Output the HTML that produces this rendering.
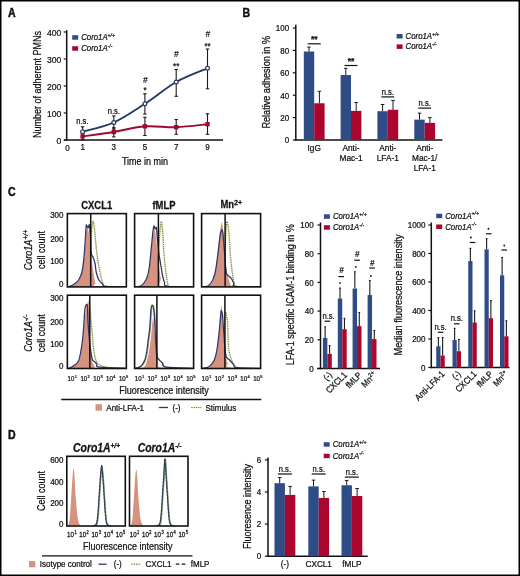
<!DOCTYPE html>
<html><head><meta charset="utf-8"><style>
html,body{margin:0;padding:0;background:#fff;}
body{width:520px;height:576px;overflow:hidden;}
svg text{font-family:"Liberation Sans", sans-serif;stroke:#111;stroke-width:0.25px;}
</style></head><body>
<svg width="520" height="576" viewBox="0 0 520 576" style="display:block;will-change:transform" font-family='"Liberation Sans", sans-serif'>
<rect x="0" y="0" width="520" height="576" fill="#fff"/>
<text x="0" y="0" font-size="12.00" text-anchor="start" font-weight="bold" fill="#111" transform="translate(7.90 16.90) scale(0.880 1)" style="stroke-width:0.45px">A</text>
<line x1="66.7" y1="30.2" x2="66.7" y2="140.7" stroke="#111" stroke-width="1.5"/>
<line x1="64" y1="140.0" x2="223" y2="140.0" stroke="#111" stroke-width="1.4"/>
<line x1="63.7" y1="140.0" x2="66.7" y2="140.0" stroke="#111" stroke-width="1.2"/>
<text x="0" y="0" font-size="9.63" text-anchor="end" fill="#111" transform="translate(61.20 143.60) scale(0.893 1)">0</text>
<line x1="63.7" y1="113.0" x2="66.7" y2="113.0" stroke="#111" stroke-width="1.2"/>
<text x="0" y="0" font-size="9.63" text-anchor="end" fill="#111" transform="translate(61.20 116.60) scale(0.893 1)">100</text>
<line x1="63.7" y1="86.0" x2="66.7" y2="86.0" stroke="#111" stroke-width="1.2"/>
<text x="0" y="0" font-size="9.63" text-anchor="end" fill="#111" transform="translate(61.20 89.60) scale(0.893 1)">200</text>
<line x1="63.7" y1="59.0" x2="66.7" y2="59.0" stroke="#111" stroke-width="1.2"/>
<text x="0" y="0" font-size="9.63" text-anchor="end" fill="#111" transform="translate(61.20 62.60) scale(0.893 1)">300</text>
<line x1="63.7" y1="32.0" x2="66.7" y2="32.0" stroke="#111" stroke-width="1.2"/>
<text x="0" y="0" font-size="9.63" text-anchor="end" fill="#111" transform="translate(61.20 35.60) scale(0.893 1)">400</text>
<text x="0" y="0" font-size="8.96" text-anchor="middle" fill="#111" transform="translate(82.60 150.30) scale(0.893 1)">1</text>
<text x="0" y="0" font-size="8.96" text-anchor="middle" fill="#111" transform="translate(113.80 150.30) scale(0.893 1)">3</text>
<text x="0" y="0" font-size="8.96" text-anchor="middle" fill="#111" transform="translate(144.90 150.30) scale(0.893 1)">5</text>
<text x="0" y="0" font-size="8.96" text-anchor="middle" fill="#111" transform="translate(176.20 150.30) scale(0.893 1)">7</text>
<text x="0" y="0" font-size="8.96" text-anchor="middle" fill="#111" transform="translate(207.50 150.30) scale(0.893 1)">9</text>
<text x="0" y="0" font-size="8.96" text-anchor="middle" fill="#111" transform="translate(67.50 150.50) scale(0.893 1)">0</text>
<text x="0" y="0" font-size="10.08" text-anchor="middle" fill="#111" transform="translate(145.00 164.50) scale(0.893 1)">Time in min</text>
<text x="0" y="0" font-size="10.08" text-anchor="middle" fill="#111" transform="translate(40.60 84.50) rotate(-90) scale(0.893 1)">Number of adherent PMNs</text>
<rect x="72.2" y="35.2" width="6" height="4.5" fill="#2e4d86"/>
<rect x="72.2" y="46.2" width="6" height="4.5" fill="#ab072e"/>
<text x="0" y="0" font-size="8.74" text-anchor="start" font-style="italic" fill="#111" transform="translate(81.20 40.20) scale(0.893 1)">Coro1A<tspan font-size="5.68" dy="-3.36">+/+</tspan></text>
<text x="0" y="0" font-size="8.74" text-anchor="start" font-style="italic" fill="#111" transform="translate(81.20 51.20) scale(0.893 1)">Coro1A<tspan font-size="5.68" dy="-3.36">-/-</tspan></text>
<line x1="82.6" y1="126.8" x2="82.6" y2="136.5" stroke="#1a1a1a" stroke-width="1.1"/>
<line x1="80.89999999999999" y1="126.8" x2="84.3" y2="126.8" stroke="#1a1a1a" stroke-width="1.1"/>
<line x1="80.89999999999999" y1="136.5" x2="84.3" y2="136.5" stroke="#1a1a1a" stroke-width="1.1"/>
<line x1="113.8" y1="115.9" x2="113.8" y2="129" stroke="#1a1a1a" stroke-width="1.1"/>
<line x1="112.1" y1="115.9" x2="115.5" y2="115.9" stroke="#1a1a1a" stroke-width="1.1"/>
<line x1="112.1" y1="129" x2="115.5" y2="129" stroke="#1a1a1a" stroke-width="1.1"/>
<line x1="144.9" y1="93.8" x2="144.9" y2="114" stroke="#1a1a1a" stroke-width="1.1"/>
<line x1="143.20000000000002" y1="93.8" x2="146.6" y2="93.8" stroke="#1a1a1a" stroke-width="1.1"/>
<line x1="143.20000000000002" y1="114" x2="146.6" y2="114" stroke="#1a1a1a" stroke-width="1.1"/>
<line x1="176.2" y1="69.5" x2="176.2" y2="96.3" stroke="#1a1a1a" stroke-width="1.1"/>
<line x1="174.5" y1="69.5" x2="177.89999999999998" y2="69.5" stroke="#1a1a1a" stroke-width="1.1"/>
<line x1="174.5" y1="96.3" x2="177.89999999999998" y2="96.3" stroke="#1a1a1a" stroke-width="1.1"/>
<line x1="207.5" y1="49" x2="207.5" y2="88.8" stroke="#1a1a1a" stroke-width="1.1"/>
<line x1="205.8" y1="49" x2="209.2" y2="49" stroke="#1a1a1a" stroke-width="1.1"/>
<line x1="205.8" y1="88.8" x2="209.2" y2="88.8" stroke="#1a1a1a" stroke-width="1.1"/>
<line x1="82.6" y1="133" x2="82.6" y2="140" stroke="#1a1a1a" stroke-width="1.1"/>
<line x1="80.89999999999999" y1="133" x2="84.3" y2="133" stroke="#1a1a1a" stroke-width="1.1"/>
<line x1="80.89999999999999" y1="140" x2="84.3" y2="140" stroke="#1a1a1a" stroke-width="1.1"/>
<line x1="113.8" y1="127.7" x2="113.8" y2="136.9" stroke="#1a1a1a" stroke-width="1.1"/>
<line x1="112.1" y1="127.7" x2="115.5" y2="127.7" stroke="#1a1a1a" stroke-width="1.1"/>
<line x1="112.1" y1="136.9" x2="115.5" y2="136.9" stroke="#1a1a1a" stroke-width="1.1"/>
<line x1="144.9" y1="117.3" x2="144.9" y2="135.5" stroke="#1a1a1a" stroke-width="1.1"/>
<line x1="143.20000000000002" y1="117.3" x2="146.6" y2="117.3" stroke="#1a1a1a" stroke-width="1.1"/>
<line x1="143.20000000000002" y1="135.5" x2="146.6" y2="135.5" stroke="#1a1a1a" stroke-width="1.1"/>
<line x1="176.2" y1="119.5" x2="176.2" y2="134.3" stroke="#1a1a1a" stroke-width="1.1"/>
<line x1="174.5" y1="119.5" x2="177.89999999999998" y2="119.5" stroke="#1a1a1a" stroke-width="1.1"/>
<line x1="174.5" y1="134.3" x2="177.89999999999998" y2="134.3" stroke="#1a1a1a" stroke-width="1.1"/>
<line x1="207.5" y1="113.8" x2="207.5" y2="134.3" stroke="#1a1a1a" stroke-width="1.1"/>
<line x1="205.8" y1="113.8" x2="209.2" y2="113.8" stroke="#1a1a1a" stroke-width="1.1"/>
<line x1="205.8" y1="134.3" x2="209.2" y2="134.3" stroke="#1a1a1a" stroke-width="1.1"/>
<path d="M82.60,136.40 C87.80,135.67 103.42,133.68 113.80,132.00 C124.18,130.32 134.50,127.10 144.90,126.30 C155.30,125.50 165.77,127.55 176.20,127.20 C186.63,126.85 202.28,124.70 207.50,124.20" fill="none" stroke="#9e0a30" stroke-width="2.0"/>
<path d="M82.60,131.70 C87.80,130.17 103.42,127.15 113.80,122.50 C124.18,117.85 134.50,110.55 144.90,103.80 C155.30,97.05 165.77,87.92 176.20,82.00 C186.63,76.08 202.28,70.58 207.50,68.30" fill="none" stroke="#263766" stroke-width="1.9"/>
<rect x="80.39999999999999" y="134.20000000000002" width="4.4" height="4.4" fill="#9e0a30"/>
<rect x="111.6" y="129.8" width="4.4" height="4.4" fill="#9e0a30"/>
<rect x="142.70000000000002" y="124.1" width="4.4" height="4.4" fill="#9e0a30"/>
<rect x="174.0" y="125.0" width="4.4" height="4.4" fill="#9e0a30"/>
<rect x="205.3" y="122.0" width="4.4" height="4.4" fill="#9e0a30"/>
<circle cx="82.6" cy="131.7" r="1.9" fill="#fff" stroke="#263766" stroke-width="1.2"/>
<circle cx="113.8" cy="122.5" r="1.9" fill="#fff" stroke="#263766" stroke-width="1.2"/>
<circle cx="144.9" cy="103.8" r="1.9" fill="#fff" stroke="#263766" stroke-width="1.2"/>
<circle cx="176.2" cy="82.0" r="1.9" fill="#fff" stroke="#263766" stroke-width="1.2"/>
<circle cx="207.5" cy="68.3" r="1.9" fill="#fff" stroke="#263766" stroke-width="1.2"/>
<text x="0" y="0" font-size="8.51" text-anchor="middle" fill="#111" transform="translate(82.40 124.30) scale(0.893 1)">n.s.</text>
<text x="0" y="0" font-size="8.51" text-anchor="middle" fill="#111" transform="translate(113.80 113.80) scale(0.893 1)">n.s.</text>
<text x="0" y="0" font-size="8.96" text-anchor="middle" fill="#111" transform="translate(145.00 92.50) scale(0.893 1)">*</text>
<text x="0" y="0" font-size="9.18" text-anchor="middle" font-style="italic" fill="#111" transform="translate(145.20 82.60) scale(0.893 1)">#</text>
<text x="0" y="0" font-size="8.96" text-anchor="middle" fill="#111" transform="translate(176.20 69.00) scale(0.893 1)">**</text>
<text x="0" y="0" font-size="9.18" text-anchor="middle" font-style="italic" fill="#111" transform="translate(176.40 56.50) scale(0.893 1)">#</text>
<text x="0" y="0" font-size="8.96" text-anchor="middle" fill="#111" transform="translate(207.50 48.80) scale(0.893 1)">**</text>
<text x="0" y="0" font-size="9.18" text-anchor="middle" font-style="italic" fill="#111" transform="translate(207.70 37.40) scale(0.893 1)">#</text>
<text x="0" y="0" font-size="12.00" text-anchor="start" font-weight="bold" fill="#111" transform="translate(242.40 17.00) scale(0.880 1)" style="stroke-width:0.45px">B</text>
<line x1="295.8" y1="24.8" x2="295.8" y2="140.7" stroke="#111" stroke-width="1.5"/>
<line x1="295.1" y1="140.0" x2="442.4" y2="140.0" stroke="#111" stroke-width="1.5"/>
<line x1="292.8" y1="140.0" x2="295.8" y2="140.0" stroke="#111" stroke-width="1.2"/>
<text x="0" y="0" font-size="8.96" text-anchor="end" fill="#111" transform="translate(289.20 143.30) scale(0.893 1)">0</text>
<line x1="292.8" y1="117.6" x2="295.8" y2="117.6" stroke="#111" stroke-width="1.2"/>
<text x="0" y="0" font-size="8.96" text-anchor="end" fill="#111" transform="translate(289.20 120.90) scale(0.893 1)">20</text>
<line x1="292.8" y1="95.19999999999999" x2="295.8" y2="95.19999999999999" stroke="#111" stroke-width="1.2"/>
<text x="0" y="0" font-size="8.96" text-anchor="end" fill="#111" transform="translate(289.20 98.50) scale(0.893 1)">40</text>
<line x1="292.8" y1="72.8" x2="295.8" y2="72.8" stroke="#111" stroke-width="1.2"/>
<text x="0" y="0" font-size="8.96" text-anchor="end" fill="#111" transform="translate(289.20 76.10) scale(0.893 1)">60</text>
<line x1="292.8" y1="50.39999999999999" x2="295.8" y2="50.39999999999999" stroke="#111" stroke-width="1.2"/>
<text x="0" y="0" font-size="8.96" text-anchor="end" fill="#111" transform="translate(289.20 53.70) scale(0.893 1)">80</text>
<line x1="292.8" y1="27.999999999999986" x2="295.8" y2="27.999999999999986" stroke="#111" stroke-width="1.2"/>
<text x="0" y="0" font-size="8.96" text-anchor="end" fill="#111" transform="translate(289.20 31.30) scale(0.893 1)">100</text>
<text x="0" y="0" font-size="10.19" text-anchor="middle" fill="#111" transform="translate(270.00 82.30) rotate(-90) scale(0.893 1)">Relative adhesion in %</text>
<rect x="303.8" y="51.519999999999996" width="10.4" height="88.48" fill="#2e4d86"/>
<rect x="314.2" y="103.26400000000001" width="10.4" height="36.736" fill="#ab072e"/>
<line x1="309.0" y1="47.03999999999999" x2="309.0" y2="51.519999999999996" stroke="#1a1a1a" stroke-width="1"/>
<line x1="307.25" y1="47.03999999999999" x2="310.75" y2="47.03999999999999" stroke="#1a1a1a" stroke-width="1"/>
<line x1="319.40000000000003" y1="91.28" x2="319.40000000000003" y2="103.26400000000001" stroke="#1a1a1a" stroke-width="1"/>
<line x1="317.65000000000003" y1="91.28" x2="321.15000000000003" y2="91.28" stroke="#1a1a1a" stroke-width="1"/>
<rect x="340.6" y="75.03999999999999" width="10.4" height="64.96000000000001" fill="#2e4d86"/>
<rect x="351.0" y="110.88" width="10.4" height="29.120000000000005" fill="#ab072e"/>
<line x1="345.8" y1="68.32" x2="345.8" y2="75.03999999999999" stroke="#1a1a1a" stroke-width="1"/>
<line x1="344.05" y1="68.32" x2="347.55" y2="68.32" stroke="#1a1a1a" stroke-width="1"/>
<line x1="356.20000000000005" y1="102.47999999999999" x2="356.20000000000005" y2="110.88" stroke="#1a1a1a" stroke-width="1"/>
<line x1="354.45000000000005" y1="102.47999999999999" x2="357.95000000000005" y2="102.47999999999999" stroke="#1a1a1a" stroke-width="1"/>
<rect x="377.4" y="111.216" width="10.4" height="28.784000000000002" fill="#2e4d86"/>
<rect x="387.79999999999995" y="109.75999999999999" width="10.4" height="30.240000000000002" fill="#ab072e"/>
<line x1="382.59999999999997" y1="104.496" x2="382.59999999999997" y2="111.216" stroke="#1a1a1a" stroke-width="1"/>
<line x1="380.84999999999997" y1="104.496" x2="384.34999999999997" y2="104.496" stroke="#1a1a1a" stroke-width="1"/>
<line x1="393.0" y1="100.464" x2="393.0" y2="109.75999999999999" stroke="#1a1a1a" stroke-width="1"/>
<line x1="391.25" y1="100.464" x2="394.75" y2="100.464" stroke="#1a1a1a" stroke-width="1"/>
<rect x="414.3" y="119.616" width="10.4" height="20.384" fill="#2e4d86"/>
<rect x="424.7" y="122.864" width="10.4" height="17.136000000000003" fill="#ab072e"/>
<line x1="419.5" y1="113.12" x2="419.5" y2="119.616" stroke="#1a1a1a" stroke-width="1"/>
<line x1="417.75" y1="113.12" x2="421.25" y2="113.12" stroke="#1a1a1a" stroke-width="1"/>
<line x1="429.90000000000003" y1="117.6" x2="429.90000000000003" y2="122.864" stroke="#1a1a1a" stroke-width="1"/>
<line x1="428.15000000000003" y1="117.6" x2="431.65000000000003" y2="117.6" stroke="#1a1a1a" stroke-width="1"/>
<text x="0" y="0" font-size="9.52" text-anchor="middle" font-weight="bold" fill="#111" transform="translate(314.20 42.00) scale(0.893 1)">**</text>
<line x1="307.7" y1="43.8" x2="320.7" y2="43.8" stroke="#111" stroke-width="1.2"/>
<text x="0" y="0" font-size="9.52" text-anchor="middle" font-weight="bold" fill="#111" transform="translate(351.00 63.50) scale(0.893 1)">**</text>
<line x1="344.5" y1="65.5" x2="357.5" y2="65.5" stroke="#111" stroke-width="1.2"/>
<text x="0" y="0" font-size="8.51" text-anchor="middle" fill="#111" transform="translate(387.80 94.50) scale(0.893 1)">n.s.</text>
<line x1="381.29999999999995" y1="96.9" x2="394.29999999999995" y2="96.9" stroke="#111" stroke-width="1.2"/>
<text x="0" y="0" font-size="8.51" text-anchor="middle" fill="#111" transform="translate(424.70 105.50) scale(0.893 1)">n.s.</text>
<line x1="418.2" y1="108.1" x2="431.2" y2="108.1" stroke="#111" stroke-width="1.2"/>
<rect x="396.6" y="34.0" width="6" height="4.5" fill="#2e4d86"/>
<rect x="396.6" y="44.4" width="6" height="4.5" fill="#ab072e"/>
<text x="0" y="0" font-size="8.74" text-anchor="start" font-style="italic" fill="#111" transform="translate(405.60 39.00) scale(0.893 1)">Coro1A<tspan font-size="5.68" dy="-3.36">+/+</tspan></text>
<text x="0" y="0" font-size="8.74" text-anchor="start" font-style="italic" fill="#111" transform="translate(405.60 49.40) scale(0.893 1)">Coro1A<tspan font-size="5.68" dy="-3.36">-/-</tspan></text>
<text x="0" y="0" font-size="9.30" text-anchor="middle" fill="#111" transform="translate(314.20 150.80) scale(0.893 1)">IgG</text>
<text x="0" y="0" font-size="9.30" text-anchor="middle" fill="#111" transform="translate(351.00 150.80) scale(0.893 1)">Anti-</text>
<text x="0" y="0" font-size="9.30" text-anchor="middle" fill="#111" transform="translate(351.00 161.00) scale(0.893 1)">Mac-1</text>
<text x="0" y="0" font-size="9.30" text-anchor="middle" fill="#111" transform="translate(387.80 150.80) scale(0.893 1)">Anti-</text>
<text x="0" y="0" font-size="9.30" text-anchor="middle" fill="#111" transform="translate(387.80 161.00) scale(0.893 1)">LFA-1</text>
<text x="0" y="0" font-size="9.30" text-anchor="middle" fill="#111" transform="translate(424.70 150.80) scale(0.893 1)">Anti-</text>
<text x="0" y="0" font-size="9.30" text-anchor="middle" fill="#111" transform="translate(424.70 161.00) scale(0.893 1)">Mac-1/</text>
<text x="0" y="0" font-size="9.30" text-anchor="middle" fill="#111" transform="translate(424.70 171.20) scale(0.893 1)">LFA-1</text>
<text x="0" y="0" font-size="12.00" text-anchor="start" font-weight="bold" fill="#111" transform="translate(7.90 196.40) scale(0.880 1)" style="stroke-width:0.45px">C</text>
<text x="0" y="0" font-size="10.26" text-anchor="middle" font-weight="bold" fill="#111" transform="translate(96.70 208.50) scale(0.920 1)">CXCL1</text>
<text x="0" y="0" font-size="10.26" text-anchor="middle" font-weight="bold" fill="#111" transform="translate(164.00 208.50) scale(0.920 1)">fMLP</text>
<text x="0" y="0" font-size="10.26" text-anchor="middle" font-weight="bold" fill="#111" transform="translate(231.40 208.40) scale(0.920 1)">Mn<tspan font-size="7.99" dy="-3.89">2+</tspan></text>
<text x="0" y="0" font-size="8.96" text-anchor="end" fill="#111" transform="translate(63.50 286.50) scale(0.893 1)">0</text>
<text x="0" y="0" font-size="8.96" text-anchor="end" fill="#111" transform="translate(63.50 263.90) scale(0.893 1)">100</text>
<text x="0" y="0" font-size="8.96" text-anchor="end" fill="#111" transform="translate(63.50 241.80) scale(0.893 1)">200</text>
<text x="0" y="0" font-size="8.96" text-anchor="end" fill="#111" transform="translate(63.50 217.55) scale(0.893 1)">300</text>
<text x="0" y="0" font-size="8.96" text-anchor="end" fill="#111" transform="translate(63.50 369.20) scale(0.893 1)">0</text>
<text x="0" y="0" font-size="8.96" text-anchor="end" fill="#111" transform="translate(63.50 347.20) scale(0.893 1)">100</text>
<text x="0" y="0" font-size="8.96" text-anchor="end" fill="#111" transform="translate(63.50 325.10) scale(0.893 1)">200</text>
<text x="0" y="0" font-size="8.96" text-anchor="end" fill="#111" transform="translate(63.50 300.80) scale(0.893 1)">300</text>
<text x="0" y="0" font-size="10.08" text-anchor="middle" font-style="italic" fill="#111" transform="translate(32.00 250.00) rotate(-90) scale(0.893 1)">Coro1A<tspan font-size="7.84" dy="-4.03">+/+</tspan></text>
<text x="0" y="0" font-size="10.08" text-anchor="middle" fill="#111" transform="translate(44.70 250.00) rotate(-90) scale(0.893 1)">cell count</text>
<text x="0" y="0" font-size="10.08" text-anchor="middle" font-style="italic" fill="#111" transform="translate(32.00 333.30) rotate(-90) scale(0.893 1)">Coro1A<tspan font-size="7.84" dy="-4.03">-/-</tspan></text>
<text x="0" y="0" font-size="10.08" text-anchor="middle" fill="#111" transform="translate(44.70 333.30) rotate(-90) scale(0.893 1)">cell count</text>
<text x="0" y="0" font-size="6.80" text-anchor="start" fill="#111" transform="translate(67.55 381.00) scale(0.900 1)">10<tspan font-size="4.4" dx="0.4" dy="-2.9">1</tspan></text>
<text x="0" y="0" font-size="6.80" text-anchor="start" fill="#111" transform="translate(80.40 381.00) scale(0.900 1)">10<tspan font-size="4.4" dx="0.4" dy="-2.9">2</tspan></text>
<text x="0" y="0" font-size="6.80" text-anchor="start" fill="#111" transform="translate(93.25 381.00) scale(0.900 1)">10<tspan font-size="4.4" dx="0.4" dy="-2.9">3</tspan></text>
<text x="0" y="0" font-size="6.80" text-anchor="start" fill="#111" transform="translate(106.10 381.00) scale(0.900 1)">10<tspan font-size="4.4" dx="0.4" dy="-2.9">4</tspan></text>
<text x="0" y="0" font-size="6.80" text-anchor="start" fill="#111" transform="translate(118.95 381.00) scale(0.900 1)">10<tspan font-size="4.4" dx="0.4" dy="-2.9">5</tspan></text>
<text x="0" y="0" font-size="6.80" text-anchor="start" fill="#111" transform="translate(134.80 381.00) scale(0.900 1)">10<tspan font-size="4.4" dx="0.4" dy="-2.9">1</tspan></text>
<text x="0" y="0" font-size="6.80" text-anchor="start" fill="#111" transform="translate(147.65 381.00) scale(0.900 1)">10<tspan font-size="4.4" dx="0.4" dy="-2.9">2</tspan></text>
<text x="0" y="0" font-size="6.80" text-anchor="start" fill="#111" transform="translate(160.50 381.00) scale(0.900 1)">10<tspan font-size="4.4" dx="0.4" dy="-2.9">3</tspan></text>
<text x="0" y="0" font-size="6.80" text-anchor="start" fill="#111" transform="translate(173.35 381.00) scale(0.900 1)">10<tspan font-size="4.4" dx="0.4" dy="-2.9">4</tspan></text>
<text x="0" y="0" font-size="6.80" text-anchor="start" fill="#111" transform="translate(186.20 381.00) scale(0.900 1)">10<tspan font-size="4.4" dx="0.4" dy="-2.9">5</tspan></text>
<text x="0" y="0" font-size="6.80" text-anchor="start" fill="#111" transform="translate(201.80 381.00) scale(0.900 1)">10<tspan font-size="4.4" dx="0.4" dy="-2.9">1</tspan></text>
<text x="0" y="0" font-size="6.80" text-anchor="start" fill="#111" transform="translate(214.65 381.00) scale(0.900 1)">10<tspan font-size="4.4" dx="0.4" dy="-2.9">2</tspan></text>
<text x="0" y="0" font-size="6.80" text-anchor="start" fill="#111" transform="translate(227.50 381.00) scale(0.900 1)">10<tspan font-size="4.4" dx="0.4" dy="-2.9">3</tspan></text>
<text x="0" y="0" font-size="6.80" text-anchor="start" fill="#111" transform="translate(240.35 381.00) scale(0.900 1)">10<tspan font-size="4.4" dx="0.4" dy="-2.9">4</tspan></text>
<text x="0" y="0" font-size="6.80" text-anchor="start" fill="#111" transform="translate(253.20 381.00) scale(0.900 1)">10<tspan font-size="4.4" dx="0.4" dy="-2.9">5</tspan></text>
<text x="0" y="0" font-size="10.08" text-anchor="middle" fill="#111" transform="translate(164.00 394.00) scale(0.893 1)">Fluorescence intensity</text>
<line x1="61.2" y1="399.5" x2="261.3" y2="399.5" stroke="#111" stroke-width="1.3"/>
<rect x="95.5" y="404.2" width="6.5" height="6.5" fill="#d5927f"/>
<text x="0" y="0" font-size="8.96" text-anchor="start" fill="#111" transform="translate(106.30 410.60) scale(0.893 1)">Anti-LFA-1</text>
<line x1="158.8" y1="407.5" x2="168" y2="407.5" stroke="#30386a" stroke-width="1.3"/>
<text x="0" y="0" font-size="8.96" text-anchor="start" fill="#111" transform="translate(172.50 410.60) scale(0.893 1)">(-)</text>
<line x1="191.3" y1="407.5" x2="201.3" y2="407.5" stroke="#eef3d2" stroke-width="2.2"/>
<line x1="191.3" y1="407.5" x2="201.3" y2="407.5" stroke="#66703a" stroke-width="1.1" stroke-dasharray="1.1,1.2"/>
<text x="0" y="0" font-size="8.96" text-anchor="start" fill="#111" transform="translate(205.50 410.60) scale(0.893 1)">Stimulus</text>
<svg x="67.35" y="213.6" width="59.0" height="73.3" overflow="hidden">
<g transform="translate(-67.35,-213.6)">
<path d="M89.50,286.90 C89.63,282.42 90.05,267.82 90.30,260.00 C90.55,252.18 90.75,245.33 91.00,240.00 C91.25,234.67 91.45,231.17 91.80,228.00 C92.15,224.83 92.67,220.92 93.10,221.00 C93.53,221.08 93.98,225.17 94.40,228.50 C94.82,231.83 95.18,236.83 95.60,241.00 C96.02,245.17 96.38,249.33 96.90,253.50 C97.43,257.67 98.13,262.46 98.75,266.00 C99.37,269.54 99.97,272.04 100.60,274.75 C101.22,277.46 101.87,280.32 102.50,282.25 C103.13,284.18 103.82,285.53 104.40,286.30 C104.98,287.07 101.73,286.80 106.00,286.90 C110.27,287.00 126.00,286.90 130.00,286.90" fill="none" stroke="#e4ecbc" stroke-width="1.8"/>
<path d="M89.50,286.90 C89.63,282.42 90.05,267.82 90.30,260.00 C90.55,252.18 90.75,245.33 91.00,240.00 C91.25,234.67 91.45,231.17 91.80,228.00 C92.15,224.83 92.67,220.92 93.10,221.00 C93.53,221.08 93.98,225.17 94.40,228.50 C94.82,231.83 95.18,236.83 95.60,241.00 C96.02,245.17 96.38,249.33 96.90,253.50 C97.43,257.67 98.13,262.46 98.75,266.00 C99.37,269.54 99.97,272.04 100.60,274.75 C101.22,277.46 101.87,280.32 102.50,282.25 C103.13,284.18 103.82,285.53 104.40,286.30 C104.98,287.07 101.73,286.80 106.00,286.90 C110.27,287.00 126.00,286.90 130.00,286.90" fill="none" stroke="#66703a" stroke-width="1.0" stroke-dasharray="1.1,1.1"/>
<path d="M67.00,286.90 C67.58,286.80 69.12,286.83 70.50,286.30 C71.88,285.77 73.88,284.75 75.30,283.70 C76.72,282.65 77.85,281.87 79.00,280.00 C80.15,278.13 81.37,275.83 82.20,272.50 C83.03,269.17 83.53,264.17 84.00,260.00 C84.47,255.83 84.68,251.67 85.00,247.50 C85.32,243.33 85.63,238.00 85.90,235.00 C86.17,232.00 86.33,230.58 86.60,229.50 C86.87,228.42 87.18,228.25 87.50,228.50 C87.82,228.75 88.15,229.42 88.50,231.00 C88.85,232.58 89.25,235.33 89.60,238.00 C89.95,240.67 90.28,244.00 90.60,247.00 C90.92,250.00 91.18,252.83 91.50,256.00 C91.82,259.17 92.17,263.17 92.50,266.00 C92.83,268.83 93.18,270.92 93.50,273.00 C93.82,275.08 94.10,276.83 94.40,278.50 C94.70,280.17 94.99,281.60 95.30,283.00 C95.61,284.40 90.47,286.25 96.25,286.90 C102.03,287.55 124.38,286.90 130.00,286.90 Z" fill="#d5927f" stroke="none"/>
<path d="M67.00,286.90 C67.50,286.80 68.67,286.87 70.00,286.30 C71.33,285.73 73.54,284.59 75.00,283.50 C76.46,282.41 77.60,281.62 78.75,279.75 C79.90,277.88 81.07,275.58 81.90,272.25 C82.73,268.92 83.28,263.92 83.75,259.75 C84.22,255.58 84.44,251.42 84.75,247.25 C85.06,243.08 85.35,238.39 85.60,234.75 C85.85,231.11 85.98,226.78 86.25,225.40 C86.52,224.03 86.89,226.08 87.20,226.50 C87.51,226.92 87.73,228.19 88.10,227.90 C88.47,227.61 89.08,224.07 89.40,224.75 C89.72,225.43 89.80,229.29 90.00,232.00 C90.20,234.71 90.39,237.42 90.60,241.00 C90.81,244.58 90.83,250.79 91.25,253.50 C91.67,256.21 92.47,255.58 93.10,257.25 C93.72,258.92 94.47,261.00 95.00,263.50 C95.53,266.00 95.62,269.54 96.25,272.25 C96.88,274.96 97.71,277.77 98.75,279.75 C99.79,281.73 101.25,283.01 102.50,284.10 C103.75,285.19 101.67,285.83 106.25,286.30 C110.83,286.77 126.04,286.80 130.00,286.90" fill="none" stroke="#30386a" stroke-width="1.3" stroke-linejoin="round"/>
</g></svg>
<line x1="90.7" y1="213.6" x2="90.7" y2="286.9" stroke="#111" stroke-width="1.5"/>
<rect x="67.35" y="213.6" width="59.0" height="73.3" fill="none" stroke="#111" stroke-width="1.6"/>
<svg x="134.6" y="213.6" width="59.0" height="73.3" overflow="hidden">
<g transform="translate(-134.6,-213.6)">
<path d="M157.50,286.90 C157.63,282.42 158.00,267.82 158.30,260.00 C158.60,252.18 158.97,245.33 159.30,240.00 C159.63,234.67 159.95,231.07 160.30,228.00 C160.65,224.93 161.02,221.10 161.40,221.60 C161.78,222.10 162.29,227.77 162.60,231.00 C162.91,234.23 163.03,237.25 163.25,241.00 C163.47,244.75 163.59,249.33 163.90,253.50 C164.21,257.67 164.68,262.25 165.10,266.00 C165.52,269.75 165.98,273.08 166.40,276.00 C166.82,278.92 167.29,281.78 167.60,283.50 C167.91,285.22 167.85,285.73 168.25,286.30 C168.65,286.87 165.54,286.80 170.00,286.90 C174.46,287.00 190.83,286.90 195.00,286.90" fill="none" stroke="#e4ecbc" stroke-width="1.8"/>
<path d="M157.50,286.90 C157.63,282.42 158.00,267.82 158.30,260.00 C158.60,252.18 158.97,245.33 159.30,240.00 C159.63,234.67 159.95,231.07 160.30,228.00 C160.65,224.93 161.02,221.10 161.40,221.60 C161.78,222.10 162.29,227.77 162.60,231.00 C162.91,234.23 163.03,237.25 163.25,241.00 C163.47,244.75 163.59,249.33 163.90,253.50 C164.21,257.67 164.68,262.25 165.10,266.00 C165.52,269.75 165.98,273.08 166.40,276.00 C166.82,278.92 167.29,281.78 167.60,283.50 C167.91,285.22 167.85,285.73 168.25,286.30 C168.65,286.87 165.54,286.80 170.00,286.90 C174.46,287.00 190.83,286.90 195.00,286.90" fill="none" stroke="#66703a" stroke-width="1.0" stroke-dasharray="1.1,1.1"/>
<path d="M134.00,286.90 C134.58,286.85 136.30,286.75 137.50,286.60 C138.70,286.45 139.98,286.70 141.20,286.00 C142.42,285.30 143.68,284.02 144.80,282.40 C145.92,280.78 147.07,278.98 147.90,276.30 C148.73,273.62 149.28,270.02 149.80,266.30 C150.32,262.58 150.60,258.05 151.00,254.00 C151.40,249.95 151.82,245.50 152.20,242.00 C152.58,238.50 152.92,235.04 153.30,233.00 C153.68,230.96 154.12,229.58 154.50,229.75 C154.88,229.92 155.18,231.08 155.60,234.00 C156.02,236.92 156.45,241.92 157.00,247.25 C157.55,252.58 158.28,260.79 158.90,266.00 C159.53,271.21 160.23,275.02 160.75,278.50 C161.27,281.98 156.29,285.50 162.00,286.90 C167.71,288.30 189.50,286.90 195.00,286.90 Z" fill="#d5927f" stroke="none"/>
<path d="M134.00,286.90 C134.50,286.85 135.88,286.75 137.00,286.60 C138.12,286.45 139.50,286.73 140.75,286.00 C142.00,285.27 143.36,283.92 144.50,282.25 C145.64,280.58 146.77,278.71 147.60,276.00 C148.43,273.29 148.97,269.75 149.50,266.00 C150.03,262.25 150.33,257.67 150.75,253.50 C151.17,249.33 151.62,244.75 152.00,241.00 C152.38,237.25 152.68,233.50 153.00,231.00 C153.32,228.50 153.65,226.58 153.90,226.00 C154.15,225.42 154.30,226.98 154.50,227.50 C154.70,228.02 154.78,229.03 155.10,229.10 C155.42,229.17 155.98,225.92 156.40,227.90 C156.82,229.88 157.18,236.73 157.60,241.00 C158.02,245.27 158.48,250.17 158.90,253.50 C159.32,256.83 159.68,258.50 160.10,261.00 C160.52,263.50 160.98,266.00 161.40,268.50 C161.82,271.00 162.08,273.71 162.60,276.00 C163.12,278.29 163.67,280.53 164.50,282.25 C165.33,283.97 162.52,285.53 167.60,286.30 C172.68,287.07 190.43,286.80 195.00,286.90" fill="none" stroke="#30386a" stroke-width="1.3" stroke-linejoin="round"/>
</g></svg>
<line x1="158.4" y1="213.6" x2="158.4" y2="286.9" stroke="#111" stroke-width="1.5"/>
<rect x="134.6" y="213.6" width="59.0" height="73.3" fill="none" stroke="#111" stroke-width="1.6"/>
<svg x="201.6" y="213.6" width="59.0" height="73.3" overflow="hidden">
<g transform="translate(-201.6,-213.6)">
<path d="M224.50,286.90 C224.58,282.42 224.82,268.15 225.00,260.00 C225.18,251.85 225.38,243.67 225.60,238.00 C225.82,232.33 226.05,228.73 226.30,226.00 C226.55,223.27 226.75,221.18 227.10,221.60 C227.45,222.02 227.98,225.27 228.40,228.50 C228.82,231.73 229.29,236.83 229.60,241.00 C229.91,245.17 229.93,249.33 230.25,253.50 C230.57,257.67 231.08,262.25 231.50,266.00 C231.92,269.75 232.33,273.08 232.75,276.00 C233.17,278.92 233.62,281.78 234.00,283.50 C234.38,285.22 230.33,285.73 235.00,286.30 C239.67,286.87 257.50,286.80 262.00,286.90" fill="none" stroke="#e4ecbc" stroke-width="1.8"/>
<path d="M224.50,286.90 C224.58,282.42 224.82,268.15 225.00,260.00 C225.18,251.85 225.38,243.67 225.60,238.00 C225.82,232.33 226.05,228.73 226.30,226.00 C226.55,223.27 226.75,221.18 227.10,221.60 C227.45,222.02 227.98,225.27 228.40,228.50 C228.82,231.73 229.29,236.83 229.60,241.00 C229.91,245.17 229.93,249.33 230.25,253.50 C230.57,257.67 231.08,262.25 231.50,266.00 C231.92,269.75 232.33,273.08 232.75,276.00 C233.17,278.92 233.62,281.78 234.00,283.50 C234.38,285.22 230.33,285.73 235.00,286.30 C239.67,286.87 257.50,286.80 262.00,286.90" fill="none" stroke="#66703a" stroke-width="1.0" stroke-dasharray="1.1,1.1"/>
<path d="M201.00,286.90 C201.67,286.85 203.57,286.85 205.00,286.60 C206.43,286.35 208.20,286.54 209.60,285.40 C211.00,284.26 212.35,282.57 213.40,279.75 C214.45,276.93 215.18,272.88 215.90,268.50 C216.62,264.12 217.13,259.12 217.75,253.50 C218.37,247.88 219.09,239.33 219.60,234.75 C220.11,230.17 220.44,228.08 220.80,226.00 C221.16,223.92 221.45,222.25 221.75,222.25 C222.05,222.25 222.32,223.92 222.60,226.00 C222.88,228.08 223.07,230.17 223.40,234.75 C223.73,239.33 224.08,247.67 224.60,253.50 C225.12,259.33 225.87,265.58 226.50,269.75 C227.13,273.92 227.67,275.89 228.40,278.50 C229.13,281.11 230.22,284.00 230.90,285.40 C231.58,286.80 227.32,286.65 232.50,286.90 C237.68,287.15 257.08,286.90 262.00,286.90 Z" fill="#d5927f" stroke="none"/>
<path d="M201.00,286.90 C201.50,286.85 202.88,286.75 204.00,286.60 C205.12,286.45 206.50,286.73 207.75,286.00 C209.00,285.27 210.36,284.12 211.50,282.25 C212.64,280.38 213.77,277.67 214.60,274.75 C215.43,271.83 215.87,268.92 216.50,264.75 C217.13,260.58 217.78,254.75 218.40,249.75 C219.03,244.75 219.77,237.88 220.25,234.75 C220.73,231.62 220.99,231.83 221.30,231.00 C221.61,230.17 221.85,229.50 222.10,229.75 C222.35,230.00 222.58,231.04 222.80,232.50 C223.02,233.96 223.10,235.00 223.40,238.50 C223.70,242.00 224.25,248.92 224.60,253.50 C224.95,258.08 225.18,262.67 225.50,266.00 C225.82,269.33 226.02,271.83 226.50,273.50 C226.98,275.17 227.78,275.38 228.40,276.00 C229.03,276.62 229.63,276.62 230.25,277.25 C230.87,277.88 231.47,278.71 232.10,279.75 C232.72,280.79 233.37,282.41 234.00,283.50 C234.63,284.59 231.23,285.73 235.90,286.30 C240.57,286.87 257.65,286.80 262.00,286.90" fill="none" stroke="#30386a" stroke-width="1.3" stroke-linejoin="round"/>
</g></svg>
<line x1="225.1" y1="213.6" x2="225.1" y2="286.9" stroke="#111" stroke-width="1.5"/>
<rect x="201.6" y="213.6" width="59.0" height="73.3" fill="none" stroke="#111" stroke-width="1.6"/>
<svg x="67.35" y="295.2" width="59.0" height="73.3" overflow="hidden">
<g transform="translate(-67.35,-295.2)">
<path d="M88.50,368.40 C88.55,362.00 88.67,339.40 88.80,330.00 C88.93,320.60 89.12,315.42 89.30,312.00 C89.48,308.58 89.60,307.83 89.90,309.50 C90.20,311.17 90.68,317.83 91.10,322.00 C91.52,326.17 92.08,330.75 92.40,334.50 C92.72,338.25 92.69,341.38 93.00,344.50 C93.31,347.62 93.73,350.54 94.25,353.25 C94.77,355.96 95.27,358.88 96.10,360.75 C96.93,362.62 98.10,363.56 99.25,364.50 C100.40,365.44 101.54,365.92 103.00,366.40 C104.46,366.88 106.83,367.07 108.00,367.40 C109.17,367.73 106.33,368.23 110.00,368.40 C113.67,368.57 126.67,368.40 130.00,368.40" fill="none" stroke="#e4ecbc" stroke-width="1.8"/>
<path d="M88.50,368.40 C88.55,362.00 88.67,339.40 88.80,330.00 C88.93,320.60 89.12,315.42 89.30,312.00 C89.48,308.58 89.60,307.83 89.90,309.50 C90.20,311.17 90.68,317.83 91.10,322.00 C91.52,326.17 92.08,330.75 92.40,334.50 C92.72,338.25 92.69,341.38 93.00,344.50 C93.31,347.62 93.73,350.54 94.25,353.25 C94.77,355.96 95.27,358.88 96.10,360.75 C96.93,362.62 98.10,363.56 99.25,364.50 C100.40,365.44 101.54,365.92 103.00,366.40 C104.46,366.88 106.83,367.07 108.00,367.40 C109.17,367.73 106.33,368.23 110.00,368.40 C113.67,368.57 126.67,368.40 130.00,368.40" fill="none" stroke="#66703a" stroke-width="1.0" stroke-dasharray="1.1,1.1"/>
<path d="M67.00,368.40 C67.67,368.28 69.50,368.30 71.00,367.70 C72.50,367.10 74.67,365.92 76.00,364.80 C77.33,363.68 78.18,362.88 79.00,361.00 C79.82,359.12 80.27,356.83 80.90,353.50 C81.53,350.17 82.28,345.17 82.80,341.00 C83.32,336.83 83.58,332.83 84.00,328.50 C84.42,324.17 84.83,318.75 85.30,315.00 C85.77,311.25 86.35,308.25 86.80,306.00 C87.25,303.75 87.70,302.38 88.00,301.50 C88.30,300.62 88.39,298.38 88.60,300.75 C88.81,303.12 89.03,310.12 89.25,315.75 C89.47,321.38 89.59,328.25 89.90,334.50 C90.21,340.75 90.68,348.67 91.10,353.25 C91.52,357.83 91.77,359.68 92.40,362.00 C93.03,364.32 94.30,366.13 94.90,367.20 C95.50,368.27 90.15,368.20 96.00,368.40 C101.85,368.60 124.33,368.40 130.00,368.40 Z" fill="#d5927f" stroke="none"/>
<path d="M67.00,368.40 C67.58,368.27 69.08,368.25 70.50,367.60 C71.92,366.95 74.15,365.64 75.50,364.50 C76.85,363.36 77.77,362.62 78.60,360.75 C79.43,358.88 79.87,356.58 80.50,353.25 C81.13,349.92 81.88,344.92 82.40,340.75 C82.92,336.58 83.18,333.46 83.60,328.25 C84.02,323.04 84.42,313.46 84.90,309.50 C85.38,305.54 86.08,304.92 86.50,304.50 C86.92,304.08 87.15,304.08 87.40,307.00 C87.65,309.92 87.69,316.79 88.00,322.00 C88.31,327.21 88.83,333.67 89.25,338.25 C89.67,342.83 89.97,345.96 90.50,349.50 C91.03,353.04 91.78,357.52 92.40,359.50 C93.03,361.48 93.53,360.67 94.25,361.40 C94.97,362.13 95.81,362.93 96.75,363.90 C97.69,364.87 94.36,366.45 99.90,367.20 C105.44,367.95 124.98,368.20 130.00,368.40" fill="none" stroke="#30386a" stroke-width="1.3" stroke-linejoin="round"/>
</g></svg>
<line x1="89.8" y1="295.2" x2="89.8" y2="368.5" stroke="#111" stroke-width="1.5"/>
<rect x="67.35" y="295.2" width="59.0" height="73.3" fill="none" stroke="#111" stroke-width="1.6"/>
<svg x="134.6" y="295.2" width="59.0" height="73.3" overflow="hidden">
<g transform="translate(-134.6,-295.2)">
<path d="M134.60,368.70 C135.28,368.57 137.38,368.45 138.70,367.90 C140.02,367.35 141.35,366.75 142.50,365.40 C143.65,364.05 144.77,362.19 145.60,359.80 C146.43,357.41 146.98,354.18 147.50,351.05 C148.02,347.93 148.22,344.80 148.70,341.05 C149.17,337.30 149.87,333.76 150.35,328.55 C150.83,323.34 151.18,313.66 151.60,309.80 C152.02,305.94 152.39,305.40 152.85,305.40 C153.31,305.40 153.93,306.98 154.35,309.80 C154.77,312.62 155.04,317.09 155.35,322.30 C155.66,327.51 155.91,335.84 156.20,341.05 C156.49,346.26 156.78,350.63 157.10,353.55 C157.42,356.47 157.62,357.41 158.10,358.55 C158.58,359.69 159.17,359.57 160.00,360.40 C160.83,361.23 161.96,362.37 163.10,363.55 C164.24,364.73 161.43,366.64 166.85,367.50 C172.27,368.36 190.81,368.50 195.60,368.70" fill="none" stroke="#e4ecbc" stroke-width="1.8"/>
<path d="M134.60,368.70 C135.28,368.57 137.38,368.45 138.70,367.90 C140.02,367.35 141.35,366.75 142.50,365.40 C143.65,364.05 144.77,362.19 145.60,359.80 C146.43,357.41 146.98,354.18 147.50,351.05 C148.02,347.93 148.22,344.80 148.70,341.05 C149.17,337.30 149.87,333.76 150.35,328.55 C150.83,323.34 151.18,313.66 151.60,309.80 C152.02,305.94 152.39,305.40 152.85,305.40 C153.31,305.40 153.93,306.98 154.35,309.80 C154.77,312.62 155.04,317.09 155.35,322.30 C155.66,327.51 155.91,335.84 156.20,341.05 C156.49,346.26 156.78,350.63 157.10,353.55 C157.42,356.47 157.62,357.41 158.10,358.55 C158.58,359.69 159.17,359.57 160.00,360.40 C160.83,361.23 161.96,362.37 163.10,363.55 C164.24,364.73 161.43,366.64 166.85,367.50 C172.27,368.36 190.81,368.50 195.60,368.70" fill="none" stroke="#66703a" stroke-width="1.0" stroke-dasharray="1.1,1.1"/>
<path d="M134.00,368.40 C135.62,368.20 141.60,368.47 143.75,367.20 C145.90,365.93 145.96,363.70 146.90,360.75 C147.84,357.80 148.68,353.88 149.40,349.50 C150.12,345.12 150.75,339.08 151.25,334.50 C151.75,329.92 152.09,324.71 152.40,322.00 C152.71,319.29 152.87,318.25 153.10,318.25 C153.33,318.25 153.53,319.29 153.80,322.00 C154.08,324.71 154.34,329.29 154.75,334.50 C155.16,339.71 155.69,348.46 156.25,353.25 C156.81,358.04 157.47,360.93 158.10,363.25 C158.72,365.57 153.85,366.34 160.00,367.20 C166.15,368.06 189.17,368.20 195.00,368.40 Z" fill="#d5927f" stroke="none"/>
<path d="M134.00,368.40 C134.68,368.27 136.78,368.15 138.10,367.60 C139.42,367.05 140.75,366.45 141.90,365.10 C143.05,363.75 144.17,361.89 145.00,359.50 C145.83,357.11 146.38,353.88 146.90,350.75 C147.42,347.62 147.62,344.50 148.10,340.75 C148.57,337.00 149.27,333.46 149.75,328.25 C150.23,323.04 150.58,313.36 151.00,309.50 C151.42,305.64 151.79,305.10 152.25,305.10 C152.71,305.10 153.33,306.68 153.75,309.50 C154.17,312.32 154.44,316.79 154.75,322.00 C155.06,327.21 155.31,335.54 155.60,340.75 C155.89,345.96 156.18,350.33 156.50,353.25 C156.82,356.17 157.02,357.11 157.50,358.25 C157.98,359.39 158.57,359.27 159.40,360.10 C160.23,360.93 161.36,362.07 162.50,363.25 C163.64,364.43 160.83,366.34 166.25,367.20 C171.67,368.06 190.21,368.20 195.00,368.40" fill="none" stroke="#30386a" stroke-width="1.3" stroke-linejoin="round"/>
</g></svg>
<line x1="156.9" y1="295.2" x2="156.9" y2="368.5" stroke="#111" stroke-width="1.5"/>
<rect x="134.6" y="295.2" width="59.0" height="73.3" fill="none" stroke="#111" stroke-width="1.6"/>
<svg x="201.6" y="295.2" width="59.0" height="73.3" overflow="hidden">
<g transform="translate(-201.6,-295.2)">
<path d="M224.50,368.40 C224.55,362.00 224.68,338.73 224.80,330.00 C224.92,321.27 225.04,319.00 225.20,316.00 C225.36,313.00 225.55,312.04 225.75,312.00 C225.95,311.96 226.09,314.08 226.40,315.75 C226.71,317.42 227.33,318.88 227.60,322.00 C227.87,325.12 227.85,330.33 228.00,334.50 C228.15,338.67 228.29,344.08 228.50,347.00 C228.71,349.92 228.77,349.92 229.25,352.00 C229.73,354.08 230.62,357.42 231.40,359.50 C232.18,361.58 233.13,363.22 233.90,364.50 C234.67,365.78 235.32,366.55 236.00,367.20 C236.68,367.85 233.67,368.20 238.00,368.40 C242.33,368.60 258.00,368.40 262.00,368.40" fill="none" stroke="#e4ecbc" stroke-width="1.8"/>
<path d="M224.50,368.40 C224.55,362.00 224.68,338.73 224.80,330.00 C224.92,321.27 225.04,319.00 225.20,316.00 C225.36,313.00 225.55,312.04 225.75,312.00 C225.95,311.96 226.09,314.08 226.40,315.75 C226.71,317.42 227.33,318.88 227.60,322.00 C227.87,325.12 227.85,330.33 228.00,334.50 C228.15,338.67 228.29,344.08 228.50,347.00 C228.71,349.92 228.77,349.92 229.25,352.00 C229.73,354.08 230.62,357.42 231.40,359.50 C232.18,361.58 233.13,363.22 233.90,364.50 C234.67,365.78 235.32,366.55 236.00,367.20 C236.68,367.85 233.67,368.20 238.00,368.40 C242.33,368.60 258.00,368.40 262.00,368.40" fill="none" stroke="#66703a" stroke-width="1.0" stroke-dasharray="1.1,1.1"/>
<path d="M201.00,368.40 C202.00,368.27 205.38,368.04 207.00,367.60 C208.62,367.16 209.50,367.10 210.75,365.75 C212.00,364.40 213.46,362.21 214.50,359.50 C215.54,356.79 216.27,353.67 217.00,349.50 C217.73,345.33 218.38,340.12 218.90,334.50 C219.42,328.88 219.78,320.00 220.10,315.75 C220.42,311.50 220.58,310.67 220.80,309.00 C221.02,307.33 221.20,305.58 221.40,305.75 C221.60,305.92 221.80,307.29 222.00,310.00 C222.20,312.71 222.28,316.88 222.60,322.00 C222.92,327.12 223.38,334.92 223.90,340.75 C224.43,346.58 225.13,353.25 225.75,357.00 C226.37,360.75 226.97,361.55 227.60,363.25 C228.22,364.95 223.77,366.34 229.50,367.20 C235.23,368.06 256.58,368.20 262.00,368.40 Z" fill="#d5927f" stroke="none"/>
<path d="M201.00,368.40 C202.00,368.27 205.38,368.15 207.00,367.60 C208.62,367.05 209.50,366.45 210.75,365.10 C212.00,363.75 213.46,362.10 214.50,359.50 C215.54,356.90 216.27,353.67 217.00,349.50 C217.73,345.33 218.38,339.08 218.90,334.50 C219.42,329.92 219.78,325.42 220.10,322.00 C220.42,318.58 220.58,315.88 220.80,314.00 C221.02,312.12 221.20,311.00 221.40,310.75 C221.60,310.50 221.80,311.67 222.00,312.50 C222.20,313.33 222.28,312.08 222.60,315.75 C222.92,319.42 223.48,328.88 223.90,334.50 C224.32,340.12 224.68,345.75 225.10,349.50 C225.52,353.25 225.77,355.33 226.40,357.00 C227.03,358.67 228.07,358.67 228.90,359.50 C229.73,360.33 230.57,361.07 231.40,362.00 C232.23,362.93 232.97,364.17 233.90,365.10 C234.83,366.03 232.32,367.05 237.00,367.60 C241.68,368.15 257.83,368.27 262.00,368.40" fill="none" stroke="#30386a" stroke-width="1.3" stroke-linejoin="round"/>
</g></svg>
<line x1="224.9" y1="295.2" x2="224.9" y2="368.5" stroke="#111" stroke-width="1.5"/>
<rect x="201.6" y="295.2" width="59.0" height="73.3" fill="none" stroke="#111" stroke-width="1.6"/>
<line x1="320.5" y1="222.5" x2="320.5" y2="369.2" stroke="#111" stroke-width="1.5"/>
<line x1="317" y1="368.5" x2="380" y2="368.5" stroke="#111" stroke-width="1.5"/>
<line x1="317.5" y1="368.5" x2="320.5" y2="368.5" stroke="#111" stroke-width="1.2"/>
<text x="0" y="0" font-size="8.96" text-anchor="end" fill="#111" transform="translate(313.70 371.70) scale(0.893 1)">0</text>
<line x1="317.5" y1="339.8" x2="320.5" y2="339.8" stroke="#111" stroke-width="1.2"/>
<text x="0" y="0" font-size="8.96" text-anchor="end" fill="#111" transform="translate(313.70 343.00) scale(0.893 1)">20</text>
<line x1="317.5" y1="311.1" x2="320.5" y2="311.1" stroke="#111" stroke-width="1.2"/>
<text x="0" y="0" font-size="8.96" text-anchor="end" fill="#111" transform="translate(313.70 314.30) scale(0.893 1)">40</text>
<line x1="317.5" y1="282.4" x2="320.5" y2="282.4" stroke="#111" stroke-width="1.2"/>
<text x="0" y="0" font-size="8.96" text-anchor="end" fill="#111" transform="translate(313.70 285.60) scale(0.893 1)">60</text>
<line x1="317.5" y1="253.7" x2="320.5" y2="253.7" stroke="#111" stroke-width="1.2"/>
<text x="0" y="0" font-size="8.96" text-anchor="end" fill="#111" transform="translate(313.70 256.90) scale(0.893 1)">80</text>
<line x1="317.5" y1="225.0" x2="320.5" y2="225.0" stroke="#111" stroke-width="1.2"/>
<text x="0" y="0" font-size="8.96" text-anchor="end" fill="#111" transform="translate(313.70 228.20) scale(0.893 1)">100</text>
<text x="0" y="0" font-size="10.08" text-anchor="middle" fill="#111" transform="translate(294.00 294.80) rotate(-90) scale(0.893 1)">LFA-1 specific ICAM-1 binding in %</text>
<rect x="323.9" y="214.3" width="6" height="4.5" fill="#2e4d86"/>
<rect x="323.9" y="225.20000000000002" width="6" height="4.5" fill="#ab072e"/>
<text x="0" y="0" font-size="8.74" text-anchor="start" font-style="italic" fill="#111" transform="translate(332.90 219.30) scale(0.893 1)">Coro1A<tspan font-size="5.68" dy="-3.36">+/+</tspan></text>
<text x="0" y="0" font-size="8.74" text-anchor="start" font-style="italic" fill="#111" transform="translate(332.90 230.20) scale(0.893 1)">Coro1A<tspan font-size="5.68" dy="-3.36">-/-</tspan></text>
<rect x="322.9" y="337.9345" width="4.45" height="30.565500000000004" fill="#2e4d86"/>
<rect x="327.34999999999997" y="353.863" width="4.45" height="14.636999999999999" fill="#ab072e"/>
<line x1="325.125" y1="326.885" x2="325.125" y2="337.9345" stroke="#1a1a1a" stroke-width="1.1"/>
<line x1="324.225" y1="326.885" x2="326.025" y2="326.885" stroke="#1a1a1a" stroke-width="1.1"/>
<line x1="329.575" y1="345.54" x2="329.575" y2="353.863" stroke="#1a1a1a" stroke-width="1.1"/>
<line x1="328.675" y1="345.54" x2="330.47499999999997" y2="345.54" stroke="#1a1a1a" stroke-width="1.1"/>
<rect x="337.8" y="298.472" width="4.45" height="70.02799999999999" fill="#2e4d86"/>
<rect x="342.25" y="329.181" width="4.45" height="39.319" fill="#ab072e"/>
<line x1="340.02500000000003" y1="288.14" x2="340.02500000000003" y2="298.472" stroke="#1a1a1a" stroke-width="1.1"/>
<line x1="339.12500000000006" y1="288.14" x2="340.925" y2="288.14" stroke="#1a1a1a" stroke-width="1.1"/>
<line x1="344.475" y1="318.275" x2="344.475" y2="329.181" stroke="#1a1a1a" stroke-width="1.1"/>
<line x1="343.57500000000005" y1="318.275" x2="345.375" y2="318.275" stroke="#1a1a1a" stroke-width="1.1"/>
<rect x="352.6" y="288.5705" width="4.45" height="79.9295" fill="#2e4d86"/>
<rect x="357.05" y="326.1675" width="4.45" height="42.3325" fill="#ab072e"/>
<line x1="354.82500000000005" y1="271.781" x2="354.82500000000005" y2="288.5705" stroke="#1a1a1a" stroke-width="1.1"/>
<line x1="353.92500000000007" y1="271.781" x2="355.725" y2="271.781" stroke="#1a1a1a" stroke-width="1.1"/>
<line x1="359.27500000000003" y1="312.53499999999997" x2="359.27500000000003" y2="326.1675" stroke="#1a1a1a" stroke-width="1.1"/>
<line x1="358.37500000000006" y1="312.53499999999997" x2="360.175" y2="312.53499999999997" stroke="#1a1a1a" stroke-width="1.1"/>
<rect x="367.6" y="295.028" width="4.45" height="73.47200000000001" fill="#2e4d86"/>
<rect x="372.05" y="339.0825" width="4.45" height="29.4175" fill="#ab072e"/>
<line x1="369.82500000000005" y1="280.5345" x2="369.82500000000005" y2="295.028" stroke="#1a1a1a" stroke-width="1.1"/>
<line x1="368.92500000000007" y1="280.5345" x2="370.725" y2="280.5345" stroke="#1a1a1a" stroke-width="1.1"/>
<line x1="374.27500000000003" y1="330.47249999999997" x2="374.27500000000003" y2="339.0825" stroke="#1a1a1a" stroke-width="1.1"/>
<line x1="373.37500000000006" y1="330.47249999999997" x2="375.175" y2="330.47249999999997" stroke="#1a1a1a" stroke-width="1.1"/>
<text x="0" y="0" font-size="8.51" text-anchor="middle" fill="#111" transform="translate(328.55 318.60) scale(0.893 1)">n.s.</text>
<line x1="324.54999999999995" y1="321.2" x2="330.15" y2="321.2" stroke="#111" stroke-width="1.2"/>
<circle cx="340.05" cy="283.1" r="0.9" fill="#111"/>
<line x1="338.45" y1="276.6" x2="344.05" y2="276.6" stroke="#111" stroke-width="1.2"/>
<text x="0" y="0" font-size="8.96" text-anchor="middle" font-style="italic" fill="#111" transform="translate(341.45 272.70) scale(0.893 1)">#</text>
<circle cx="355.85" cy="266.9" r="0.9" fill="#111"/>
<line x1="354.25" y1="260.2" x2="359.85" y2="260.2" stroke="#111" stroke-width="1.2"/>
<text x="0" y="0" font-size="8.96" text-anchor="middle" font-style="italic" fill="#111" transform="translate(357.25 256.90) scale(0.893 1)">#</text>
<circle cx="370.85" cy="276.0" r="0.9" fill="#111"/>
<line x1="369.25" y1="268.0" x2="374.85" y2="268.0" stroke="#111" stroke-width="1.2"/>
<text x="0" y="0" font-size="8.96" text-anchor="middle" font-style="italic" fill="#111" transform="translate(372.25 265.70) scale(0.893 1)">#</text>
<text x="0" y="0" font-size="8.96" text-anchor="end" fill="#111" transform="translate(332.70 375.60) rotate(-45) scale(0.893 1)">(-)</text>
<text x="0" y="0" font-size="8.96" text-anchor="end" fill="#111" transform="translate(347.60 375.60) rotate(-45) scale(0.893 1)">CXCL1</text>
<text x="0" y="0" font-size="8.96" text-anchor="end" fill="#111" transform="translate(362.40 375.60) rotate(-45) scale(0.893 1)">fMLP</text>
<text x="0" y="0" font-size="8.96" text-anchor="end" fill="#111" transform="translate(377.40 375.60) rotate(-45) scale(0.893 1)">Mn<tspan font-size="6.27" dy="-3.36">2+</tspan></text>
<line x1="431.3" y1="222.5" x2="431.3" y2="368.2" stroke="#111" stroke-width="1.5"/>
<line x1="430.6" y1="367.5" x2="509.5" y2="367.5" stroke="#111" stroke-width="1.5"/>
<line x1="428.3" y1="367.5" x2="431.3" y2="367.5" stroke="#111" stroke-width="1.2"/>
<text x="0" y="0" font-size="8.96" text-anchor="end" fill="#111" transform="translate(425.50 370.70) scale(0.893 1)">0</text>
<line x1="428.3" y1="339.0" x2="431.3" y2="339.0" stroke="#111" stroke-width="1.2"/>
<text x="0" y="0" font-size="8.96" text-anchor="end" fill="#111" transform="translate(425.50 342.20) scale(0.893 1)">200</text>
<line x1="428.3" y1="310.5" x2="431.3" y2="310.5" stroke="#111" stroke-width="1.2"/>
<text x="0" y="0" font-size="8.96" text-anchor="end" fill="#111" transform="translate(425.50 313.70) scale(0.893 1)">400</text>
<line x1="428.3" y1="282.0" x2="431.3" y2="282.0" stroke="#111" stroke-width="1.2"/>
<text x="0" y="0" font-size="8.96" text-anchor="end" fill="#111" transform="translate(425.50 285.20) scale(0.893 1)">600</text>
<line x1="428.3" y1="253.5" x2="431.3" y2="253.5" stroke="#111" stroke-width="1.2"/>
<text x="0" y="0" font-size="8.96" text-anchor="end" fill="#111" transform="translate(425.50 256.70) scale(0.893 1)">800</text>
<line x1="428.3" y1="225.0" x2="431.3" y2="225.0" stroke="#111" stroke-width="1.2"/>
<text x="0" y="0" font-size="8.96" text-anchor="end" fill="#111" transform="translate(425.50 228.20) scale(0.893 1)">1000</text>
<text x="0" y="0" font-size="10.30" text-anchor="middle" fill="#111" transform="translate(401.70 295.00) rotate(-90) scale(0.893 1)">Median fluorescence intensity</text>
<rect x="436.2" y="213.7" width="6" height="4.5" fill="#2e4d86"/>
<rect x="436.2" y="224.5" width="6" height="4.5" fill="#ab072e"/>
<text x="0" y="0" font-size="8.74" text-anchor="start" font-style="italic" fill="#111" transform="translate(445.20 218.70) scale(0.893 1)">Coro1A<tspan font-size="5.68" dy="-3.36">+/+</tspan></text>
<text x="0" y="0" font-size="8.74" text-anchor="start" font-style="italic" fill="#111" transform="translate(445.20 229.50) scale(0.893 1)">Coro1A<tspan font-size="5.68" dy="-3.36">-/-</tspan></text>
<rect x="436.25" y="346.2675" width="4.25" height="21.232499999999998" fill="#2e4d86"/>
<rect x="440.5" y="355.53" width="4.25" height="11.969999999999999" fill="#ab072e"/>
<line x1="438.375" y1="337.575" x2="438.375" y2="346.2675" stroke="#1a1a1a" stroke-width="1.1"/>
<line x1="437.475" y1="337.575" x2="439.275" y2="337.575" stroke="#1a1a1a" stroke-width="1.1"/>
<line x1="442.625" y1="337.575" x2="442.625" y2="355.53" stroke="#1a1a1a" stroke-width="1.1"/>
<line x1="441.725" y1="337.575" x2="443.525" y2="337.575" stroke="#1a1a1a" stroke-width="1.1"/>
<rect x="452.5" y="339.9975" width="4.25" height="27.502499999999998" fill="#2e4d86"/>
<rect x="456.75" y="351.255" width="4.25" height="16.244999999999997" fill="#ab072e"/>
<line x1="454.625" y1="328.3125" x2="454.625" y2="339.9975" stroke="#1a1a1a" stroke-width="1.1"/>
<line x1="453.725" y1="328.3125" x2="455.525" y2="328.3125" stroke="#1a1a1a" stroke-width="1.1"/>
<line x1="458.875" y1="339.57" x2="458.875" y2="351.255" stroke="#1a1a1a" stroke-width="1.1"/>
<line x1="457.975" y1="339.57" x2="459.775" y2="339.57" stroke="#1a1a1a" stroke-width="1.1"/>
<rect x="468.25" y="261.0525" width="4.25" height="106.44749999999999" fill="#2e4d86"/>
<rect x="472.5" y="322.47" width="4.25" height="45.029999999999994" fill="#ab072e"/>
<line x1="470.375" y1="248.37" x2="470.375" y2="261.0525" stroke="#1a1a1a" stroke-width="1.1"/>
<line x1="469.475" y1="248.37" x2="471.275" y2="248.37" stroke="#1a1a1a" stroke-width="1.1"/>
<line x1="474.625" y1="310.785" x2="474.625" y2="322.47" stroke="#1a1a1a" stroke-width="1.1"/>
<line x1="473.725" y1="310.785" x2="475.525" y2="310.785" stroke="#1a1a1a" stroke-width="1.1"/>
<rect x="484.5" y="249.3675" width="4.25" height="118.1325" fill="#2e4d86"/>
<rect x="488.75" y="318.195" width="4.25" height="49.30499999999999" fill="#ab072e"/>
<line x1="486.625" y1="238.68" x2="486.625" y2="249.3675" stroke="#1a1a1a" stroke-width="1.1"/>
<line x1="485.725" y1="238.68" x2="487.525" y2="238.68" stroke="#1a1a1a" stroke-width="1.1"/>
<line x1="490.875" y1="300.525" x2="490.875" y2="318.195" stroke="#1a1a1a" stroke-width="1.1"/>
<line x1="489.975" y1="300.525" x2="491.775" y2="300.525" stroke="#1a1a1a" stroke-width="1.1"/>
<rect x="500.0" y="275.3025" width="4.25" height="92.19749999999999" fill="#2e4d86"/>
<rect x="504.25" y="336.2925" width="4.25" height="31.207499999999996" fill="#ab072e"/>
<line x1="502.125" y1="257.49" x2="502.125" y2="275.3025" stroke="#1a1a1a" stroke-width="1.1"/>
<line x1="501.225" y1="257.49" x2="503.025" y2="257.49" stroke="#1a1a1a" stroke-width="1.1"/>
<line x1="506.375" y1="320.76" x2="506.375" y2="336.2925" stroke="#1a1a1a" stroke-width="1.1"/>
<line x1="505.475" y1="320.76" x2="507.275" y2="320.76" stroke="#1a1a1a" stroke-width="1.1"/>
<text x="0" y="0" font-size="8.51" text-anchor="middle" fill="#111" transform="translate(440.50 329.50) scale(0.893 1)">n.s.</text>
<line x1="437.7" y1="332.3" x2="443.3" y2="332.3" stroke="#111" stroke-width="1.2"/>
<text x="0" y="0" font-size="8.51" text-anchor="middle" fill="#111" transform="translate(456.75 321.30) scale(0.893 1)">n.s.</text>
<line x1="453.95" y1="323.8" x2="459.55" y2="323.8" stroke="#111" stroke-width="1.2"/>
<circle cx="470.9" cy="237.5" r="0.95" fill="#111"/>
<line x1="469.7" y1="242.5" x2="475.3" y2="242.5" stroke="#111" stroke-width="1.2"/>
<circle cx="488.45" cy="228.75" r="0.95" fill="#111"/>
<line x1="485.95" y1="233.75" x2="491.55" y2="233.75" stroke="#111" stroke-width="1.2"/>
<circle cx="504.25" cy="245.5" r="0.95" fill="#111"/>
<line x1="501.45" y1="250" x2="507.05" y2="250" stroke="#111" stroke-width="1.2"/>
<text x="0" y="0" font-size="8.96" text-anchor="end" fill="#111" transform="translate(445.25 374.60) rotate(-45) scale(0.893 1)">Anti-LFA-1</text>
<text x="0" y="0" font-size="8.96" text-anchor="end" fill="#111" transform="translate(461.50 374.60) rotate(-45) scale(0.893 1)">(-)</text>
<text x="0" y="0" font-size="8.96" text-anchor="end" fill="#111" transform="translate(477.25 374.60) rotate(-45) scale(0.893 1)">CXCL1</text>
<text x="0" y="0" font-size="8.96" text-anchor="end" fill="#111" transform="translate(493.50 374.60) rotate(-45) scale(0.893 1)">fMLP</text>
<text x="0" y="0" font-size="8.96" text-anchor="end" fill="#111" transform="translate(509.00 374.60) rotate(-45) scale(0.893 1)">Mn<tspan font-size="6.27" dy="-3.36">2+</tspan></text>
<text x="0" y="0" font-size="12.00" text-anchor="start" font-weight="bold" fill="#111" transform="translate(7.90 438.60) scale(0.880 1)" style="stroke-width:0.45px">D</text>
<text x="0" y="0" font-size="11.96" text-anchor="middle" font-weight="bold" font-style="italic" fill="#111" transform="translate(96.50 451.80) scale(0.870 1)">Coro1A<tspan font-size="7.47" dy="-4.14">+/+</tspan></text>
<text x="0" y="0" font-size="11.96" text-anchor="middle" font-weight="bold" font-style="italic" fill="#111" transform="translate(159.50 451.80) scale(0.870 1)">Coro1A<tspan font-size="7.47" dy="-4.14">-/-</tspan></text>
<text x="0" y="0" font-size="8.96" text-anchor="end" fill="#111" transform="translate(63.50 527.10) scale(0.893 1)">0</text>
<text x="0" y="0" font-size="8.96" text-anchor="end" fill="#111" transform="translate(63.50 506.10) scale(0.893 1)">200</text>
<text x="0" y="0" font-size="8.96" text-anchor="end" fill="#111" transform="translate(63.50 484.70) scale(0.893 1)">400</text>
<text x="0" y="0" font-size="8.96" text-anchor="end" fill="#111" transform="translate(63.50 463.20) scale(0.893 1)">600</text>
<text x="0" y="0" font-size="10.08" text-anchor="middle" fill="#111" transform="translate(44.60 491.00) rotate(-90) scale(0.893 1)">Cell count</text>
<svg x="66.8" y="456.3" width="58.5" height="69.5" overflow="hidden"><g transform="translate(-66.8,-456.3)">
<path d="M67.50,525.80 C67.83,524.97 68.92,524.97 69.50,520.80 C70.08,516.63 70.50,507.97 71.00,500.80 C71.50,493.63 72.08,483.22 72.50,477.80 C72.92,472.38 73.17,468.63 73.50,468.30 C73.83,467.97 74.08,470.38 74.50,475.80 C74.92,481.22 75.42,493.47 76.00,500.80 C76.58,508.13 77.25,515.63 78.00,519.80 C78.75,523.97 80.08,524.80 80.50,525.80 Z" fill="#d5927f"/>
<path d="M93.15,526.80 C93.65,526.67 95.40,526.83 96.15,526.00 C96.90,525.17 97.22,524.33 97.65,521.80 C98.08,519.27 98.42,514.97 98.75,510.80 C99.08,506.63 99.30,502.13 99.65,496.80 C100.00,491.47 100.48,483.55 100.85,478.80 C101.22,474.05 101.63,470.38 101.85,468.30 C102.07,466.22 102.05,466.30 102.15,466.30 C102.25,466.30 102.23,466.22 102.45,468.30 C102.67,470.38 103.08,474.05 103.45,478.80 C103.82,483.55 104.30,491.47 104.65,496.80 C105.00,502.13 105.22,506.63 105.55,510.80 C105.88,514.97 106.22,519.27 106.65,521.80 C107.08,524.33 107.40,525.17 108.15,526.00 C108.90,526.83 110.65,526.67 111.15,526.80" fill="none" stroke="#cfe0b8" stroke-width="1.6"/>
<path d="M92.70,525.80 C93.20,525.67 94.95,525.83 95.70,525.00 C96.45,524.17 96.77,523.33 97.20,520.80 C97.63,518.27 97.97,513.97 98.30,509.80 C98.63,505.63 98.85,501.13 99.20,495.80 C99.55,490.47 100.03,482.55 100.40,477.80 C100.77,473.05 101.18,469.38 101.40,467.30 C101.62,465.22 101.60,465.30 101.70,465.30 C101.80,465.30 101.78,465.22 102.00,467.30 C102.22,469.38 102.63,473.05 103.00,477.80 C103.37,482.55 103.85,490.47 104.20,495.80 C104.55,501.13 104.77,505.63 105.10,509.80 C105.43,513.97 105.77,518.27 106.20,520.80 C106.63,523.33 106.95,524.17 107.70,525.00 C108.45,525.83 110.20,525.67 110.70,525.80" fill="none" stroke="#30386a" stroke-width="1.2"/>
<path d="M93.15,526.80 C93.65,526.67 95.40,526.83 96.15,526.00 C96.90,525.17 97.22,524.33 97.65,521.80 C98.08,519.27 98.42,514.97 98.75,510.80 C99.08,506.63 99.30,502.13 99.65,496.80 C100.00,491.47 100.48,483.55 100.85,478.80 C101.22,474.05 101.63,470.38 101.85,468.30 C102.07,466.22 102.05,466.30 102.15,466.30 C102.25,466.30 102.23,466.22 102.45,468.30 C102.67,470.38 103.08,474.05 103.45,478.80 C103.82,483.55 104.30,491.47 104.65,496.80 C105.00,502.13 105.22,506.63 105.55,510.80 C105.88,514.97 106.22,519.27 106.65,521.80 C107.08,524.33 107.40,525.17 108.15,526.00 C108.90,526.83 110.65,526.67 111.15,526.80" fill="none" stroke="#4f7a55" stroke-width="0.9" stroke-dasharray="1.1,0.9"/>
<path d="M92.40,526.30 C92.90,526.17 94.65,526.33 95.40,525.50 C96.15,524.67 96.47,523.83 96.90,521.30 C97.33,518.77 97.67,514.47 98.00,510.30 C98.33,506.13 98.55,501.63 98.90,496.30 C99.25,490.97 99.73,483.05 100.10,478.30 C100.47,473.55 100.88,469.88 101.10,467.80 C101.32,465.72 101.30,465.80 101.40,465.80 C101.50,465.80 101.48,465.72 101.70,467.80 C101.92,469.88 102.33,473.55 102.70,478.30 C103.07,483.05 103.55,490.97 103.90,496.30 C104.25,501.63 104.47,506.13 104.80,510.30 C105.13,514.47 105.47,518.77 105.90,521.30 C106.33,523.83 106.65,524.67 107.40,525.50 C108.15,526.33 109.90,526.17 110.40,526.30" fill="none" stroke="#333" stroke-width="0.6" stroke-dasharray="2,1.5"/>
</g></svg>
<rect x="66.8" y="456.3" width="58.5" height="69.7" fill="none" stroke="#111" stroke-width="1.6"/>
<text x="0" y="0" font-size="7.20" text-anchor="start" fill="#111" transform="translate(67.10 536.80) scale(0.860 1)">10<tspan font-size="4.6" dx="0.5" dy="-3.0">1</tspan></text>
<text x="0" y="0" font-size="7.20" text-anchor="start" fill="#111" transform="translate(79.25 536.80) scale(0.860 1)">10<tspan font-size="4.6" dx="0.5" dy="-3.0">2</tspan></text>
<text x="0" y="0" font-size="7.20" text-anchor="start" fill="#111" transform="translate(91.40 536.80) scale(0.860 1)">10<tspan font-size="4.6" dx="0.5" dy="-3.0">3</tspan></text>
<text x="0" y="0" font-size="7.20" text-anchor="start" fill="#111" transform="translate(103.55 536.80) scale(0.860 1)">10<tspan font-size="4.6" dx="0.5" dy="-3.0">4</tspan></text>
<text x="0" y="0" font-size="7.20" text-anchor="start" fill="#111" transform="translate(115.70 536.80) scale(0.860 1)">10<tspan font-size="4.6" dx="0.5" dy="-3.0">5</tspan></text>
<svg x="129.5" y="456.3" width="58.5" height="69.5" overflow="hidden"><g transform="translate(-129.5,-456.3)">
<path d="M130.20,525.80 C130.53,524.97 131.62,524.97 132.20,520.80 C132.78,516.63 133.20,507.97 133.70,500.80 C134.20,493.63 134.78,482.97 135.20,477.80 C135.62,472.63 135.87,470.13 136.20,469.80 C136.53,469.47 136.78,470.63 137.20,475.80 C137.62,480.97 138.12,493.47 138.70,500.80 C139.28,508.13 139.95,515.63 140.70,519.80 C141.45,523.97 142.78,524.80 143.20,525.80 Z" fill="#d5927f"/>
<path d="M156.45,526.80 C156.95,526.67 158.70,526.83 159.45,526.00 C160.20,525.17 160.52,524.33 160.95,521.80 C161.38,519.27 161.72,514.97 162.05,510.80 C162.38,506.63 162.60,502.13 162.95,496.80 C163.30,491.47 163.78,484.60 164.15,478.80 C164.52,473.00 164.93,465.13 165.15,462.00 C165.37,458.87 165.35,460.00 165.45,460.00 C165.55,460.00 165.53,458.87 165.75,462.00 C165.97,465.13 166.38,473.00 166.75,478.80 C167.12,484.60 167.60,491.47 167.95,496.80 C168.30,502.13 168.52,506.63 168.85,510.80 C169.18,514.97 169.52,519.27 169.95,521.80 C170.38,524.33 170.70,525.17 171.45,526.00 C172.20,526.83 173.95,526.67 174.45,526.80" fill="none" stroke="#cfe0b8" stroke-width="1.6"/>
<path d="M156.00,525.80 C156.50,525.67 158.25,525.83 159.00,525.00 C159.75,524.17 160.07,523.33 160.50,520.80 C160.93,518.27 161.27,513.97 161.60,509.80 C161.93,505.63 162.15,501.13 162.50,495.80 C162.85,490.47 163.33,483.60 163.70,477.80 C164.07,472.00 164.48,464.13 164.70,461.00 C164.92,457.87 164.90,459.00 165.00,459.00 C165.10,459.00 165.08,457.87 165.30,461.00 C165.52,464.13 165.93,472.00 166.30,477.80 C166.67,483.60 167.15,490.47 167.50,495.80 C167.85,501.13 168.07,505.63 168.40,509.80 C168.73,513.97 169.07,518.27 169.50,520.80 C169.93,523.33 170.25,524.17 171.00,525.00 C171.75,525.83 173.50,525.67 174.00,525.80" fill="none" stroke="#30386a" stroke-width="1.2"/>
<path d="M156.45,526.80 C156.95,526.67 158.70,526.83 159.45,526.00 C160.20,525.17 160.52,524.33 160.95,521.80 C161.38,519.27 161.72,514.97 162.05,510.80 C162.38,506.63 162.60,502.13 162.95,496.80 C163.30,491.47 163.78,484.60 164.15,478.80 C164.52,473.00 164.93,465.13 165.15,462.00 C165.37,458.87 165.35,460.00 165.45,460.00 C165.55,460.00 165.53,458.87 165.75,462.00 C165.97,465.13 166.38,473.00 166.75,478.80 C167.12,484.60 167.60,491.47 167.95,496.80 C168.30,502.13 168.52,506.63 168.85,510.80 C169.18,514.97 169.52,519.27 169.95,521.80 C170.38,524.33 170.70,525.17 171.45,526.00 C172.20,526.83 173.95,526.67 174.45,526.80" fill="none" stroke="#4f7a55" stroke-width="0.9" stroke-dasharray="1.1,0.9"/>
<path d="M155.70,526.30 C156.20,526.17 157.95,526.33 158.70,525.50 C159.45,524.67 159.77,523.83 160.20,521.30 C160.63,518.77 160.97,514.47 161.30,510.30 C161.63,506.13 161.85,501.63 162.20,496.30 C162.55,490.97 163.03,484.10 163.40,478.30 C163.77,472.50 164.18,464.63 164.40,461.50 C164.62,458.37 164.60,459.50 164.70,459.50 C164.80,459.50 164.78,458.37 165.00,461.50 C165.22,464.63 165.63,472.50 166.00,478.30 C166.37,484.10 166.85,490.97 167.20,496.30 C167.55,501.63 167.77,506.13 168.10,510.30 C168.43,514.47 168.77,518.77 169.20,521.30 C169.63,523.83 169.95,524.67 170.70,525.50 C171.45,526.33 173.20,526.17 173.70,526.30" fill="none" stroke="#333" stroke-width="0.6" stroke-dasharray="2,1.5"/>
</g></svg>
<rect x="129.5" y="456.3" width="58.5" height="69.7" fill="none" stroke="#111" stroke-width="1.6"/>
<text x="0" y="0" font-size="7.20" text-anchor="start" fill="#111" transform="translate(129.80 536.80) scale(0.860 1)">10<tspan font-size="4.6" dx="0.5" dy="-3.0">1</tspan></text>
<text x="0" y="0" font-size="7.20" text-anchor="start" fill="#111" transform="translate(141.95 536.80) scale(0.860 1)">10<tspan font-size="4.6" dx="0.5" dy="-3.0">2</tspan></text>
<text x="0" y="0" font-size="7.20" text-anchor="start" fill="#111" transform="translate(154.10 536.80) scale(0.860 1)">10<tspan font-size="4.6" dx="0.5" dy="-3.0">3</tspan></text>
<text x="0" y="0" font-size="7.20" text-anchor="start" fill="#111" transform="translate(166.25 536.80) scale(0.860 1)">10<tspan font-size="4.6" dx="0.5" dy="-3.0">4</tspan></text>
<text x="0" y="0" font-size="7.20" text-anchor="start" fill="#111" transform="translate(178.40 536.80) scale(0.860 1)">10<tspan font-size="4.6" dx="0.5" dy="-3.0">5</tspan></text>
<text x="0" y="0" font-size="10.08" text-anchor="middle" fill="#111" transform="translate(127.70 550.20) scale(0.893 1)">Fluorescence intensity</text>
<line x1="42.0" y1="555.9" x2="192.5" y2="555.9" stroke="#111" stroke-width="1.4"/>
<rect x="29" y="561" width="6.3" height="6.3" fill="#d5927f"/>
<text x="0" y="0" font-size="8.96" text-anchor="start" fill="#111" transform="translate(39.80 567.20) scale(0.893 1)">Isotype control</text>
<line x1="98.5" y1="564.2" x2="106.5" y2="564.2" stroke="#30386a" stroke-width="1.3"/>
<text x="0" y="0" font-size="8.96" text-anchor="start" fill="#111" transform="translate(113.80 567.20) scale(0.893 1)">(-)</text>
<line x1="131.4" y1="564.2" x2="140.8" y2="564.2" stroke="#eef3d2" stroke-width="2.2"/>
<line x1="131.4" y1="564.2" x2="140.8" y2="564.2" stroke="#66703a" stroke-width="1.1" stroke-dasharray="1.1,1.2"/>
<text x="0" y="0" font-size="8.96" text-anchor="start" fill="#111" transform="translate(145.60 567.20) scale(0.893 1)">CXCL1</text>
<line x1="175.8" y1="564.2" x2="187.0" y2="564.2" stroke="#111" stroke-width="1.2" stroke-dasharray="3.5,2.5"/>
<text x="0" y="0" font-size="8.96" text-anchor="start" fill="#111" transform="translate(190.80 567.20) scale(0.893 1)">fMLP</text>
<line x1="268.0" y1="457.5" x2="268.0" y2="556.9000000000001" stroke="#111" stroke-width="1.5"/>
<line x1="267.3" y1="556.2" x2="367.7" y2="556.2" stroke="#111" stroke-width="1.5"/>
<line x1="265.0" y1="556.2" x2="268.0" y2="556.2" stroke="#111" stroke-width="1.2"/>
<text x="0" y="0" font-size="8.96" text-anchor="end" fill="#111" transform="translate(261.30 559.40) scale(0.893 1)">0</text>
<line x1="265.0" y1="524.1" x2="268.0" y2="524.1" stroke="#111" stroke-width="1.2"/>
<text x="0" y="0" font-size="8.96" text-anchor="end" fill="#111" transform="translate(261.30 527.30) scale(0.893 1)">2</text>
<line x1="265.0" y1="492.00000000000006" x2="268.0" y2="492.00000000000006" stroke="#111" stroke-width="1.2"/>
<text x="0" y="0" font-size="8.96" text-anchor="end" fill="#111" transform="translate(261.30 495.20) scale(0.893 1)">4</text>
<line x1="265.0" y1="459.90000000000003" x2="268.0" y2="459.90000000000003" stroke="#111" stroke-width="1.2"/>
<text x="0" y="0" font-size="8.96" text-anchor="end" fill="#111" transform="translate(261.30 463.10) scale(0.893 1)">6</text>
<text x="0" y="0" font-size="10.08" text-anchor="middle" fill="#111" transform="translate(250.50 506.50) rotate(-90) scale(0.893 1)">Fluoresence intensity</text>
<rect x="323.7" y="442.2" width="6" height="4.5" fill="#2e4d86"/>
<rect x="323.7" y="453.7" width="6" height="4.5" fill="#ab072e"/>
<text x="0" y="0" font-size="8.74" text-anchor="start" font-style="italic" fill="#111" transform="translate(332.70 447.20) scale(0.893 1)">Coro1A<tspan font-size="5.68" dy="-3.36">+/+</tspan></text>
<text x="0" y="0" font-size="8.74" text-anchor="start" font-style="italic" fill="#111" transform="translate(332.70 458.70) scale(0.893 1)">Coro1A<tspan font-size="5.68" dy="-3.36">-/-</tspan></text>
<rect x="274.5" y="483.1725" width="10.4" height="73.0275" fill="#2e4d86"/>
<rect x="284.9" y="494.88900000000007" width="10.4" height="61.311" fill="#ab072e"/>
<line x1="279.7" y1="477.55500000000006" x2="279.7" y2="483.1725" stroke="#1a1a1a" stroke-width="1"/>
<line x1="277.95" y1="477.55500000000006" x2="281.45" y2="477.55500000000006" stroke="#1a1a1a" stroke-width="1"/>
<line x1="290.1" y1="486.38250000000005" x2="290.1" y2="494.88900000000007" stroke="#1a1a1a" stroke-width="1"/>
<line x1="288.35" y1="486.38250000000005" x2="291.85" y2="486.38250000000005" stroke="#1a1a1a" stroke-width="1"/>
<rect x="308.3" y="486.38250000000005" width="10.4" height="69.8175" fill="#2e4d86"/>
<rect x="318.7" y="497.93850000000003" width="10.4" height="58.2615" fill="#ab072e"/>
<line x1="313.5" y1="480.12300000000005" x2="313.5" y2="486.38250000000005" stroke="#1a1a1a" stroke-width="1"/>
<line x1="311.75" y1="480.12300000000005" x2="315.25" y2="480.12300000000005" stroke="#1a1a1a" stroke-width="1"/>
<line x1="323.90000000000003" y1="491.5185" x2="323.90000000000003" y2="497.93850000000003" stroke="#1a1a1a" stroke-width="1"/>
<line x1="322.15000000000003" y1="491.5185" x2="325.65000000000003" y2="491.5185" stroke="#1a1a1a" stroke-width="1"/>
<rect x="341.5" y="485.259" width="10.4" height="70.941" fill="#2e4d86"/>
<rect x="351.9" y="496.01250000000005" width="10.4" height="60.1875" fill="#ab072e"/>
<line x1="346.7" y1="480.4440000000001" x2="346.7" y2="485.259" stroke="#1a1a1a" stroke-width="1"/>
<line x1="344.95" y1="480.4440000000001" x2="348.45" y2="480.4440000000001" stroke="#1a1a1a" stroke-width="1"/>
<line x1="357.1" y1="488.46900000000005" x2="357.1" y2="496.01250000000005" stroke="#1a1a1a" stroke-width="1"/>
<line x1="355.35" y1="488.46900000000005" x2="358.85" y2="488.46900000000005" stroke="#1a1a1a" stroke-width="1"/>
<text x="0" y="0" font-size="8.51" text-anchor="middle" fill="#111" transform="translate(284.90 471.60) scale(0.893 1)">n.s.</text>
<line x1="277.9" y1="474.0" x2="291.9" y2="474.0" stroke="#111" stroke-width="1.2"/>
<text x="0" y="0" font-size="8.51" text-anchor="middle" fill="#111" transform="translate(318.70 471.60) scale(0.893 1)">n.s.</text>
<line x1="311.7" y1="474.0" x2="325.7" y2="474.0" stroke="#111" stroke-width="1.2"/>
<text x="0" y="0" font-size="8.51" text-anchor="middle" fill="#111" transform="translate(351.90 474.80) scale(0.893 1)">n.s.</text>
<line x1="344.9" y1="477.1" x2="358.9" y2="477.1" stroke="#111" stroke-width="1.2"/>
<text x="0" y="0" font-size="9.18" text-anchor="middle" fill="#111" transform="translate(284.90 567.00) scale(0.893 1)">(-)</text>
<text x="0" y="0" font-size="9.18" text-anchor="middle" fill="#111" transform="translate(318.70 567.00) scale(0.893 1)">CXCL1</text>
<text x="0" y="0" font-size="9.18" text-anchor="middle" fill="#111" transform="translate(351.90 567.00) scale(0.893 1)">fMLP</text>
<rect x="0.75" y="0.75" width="518.5" height="574.5" fill="none" stroke="#000" stroke-width="1.5"/>
</svg>
</body></html>
